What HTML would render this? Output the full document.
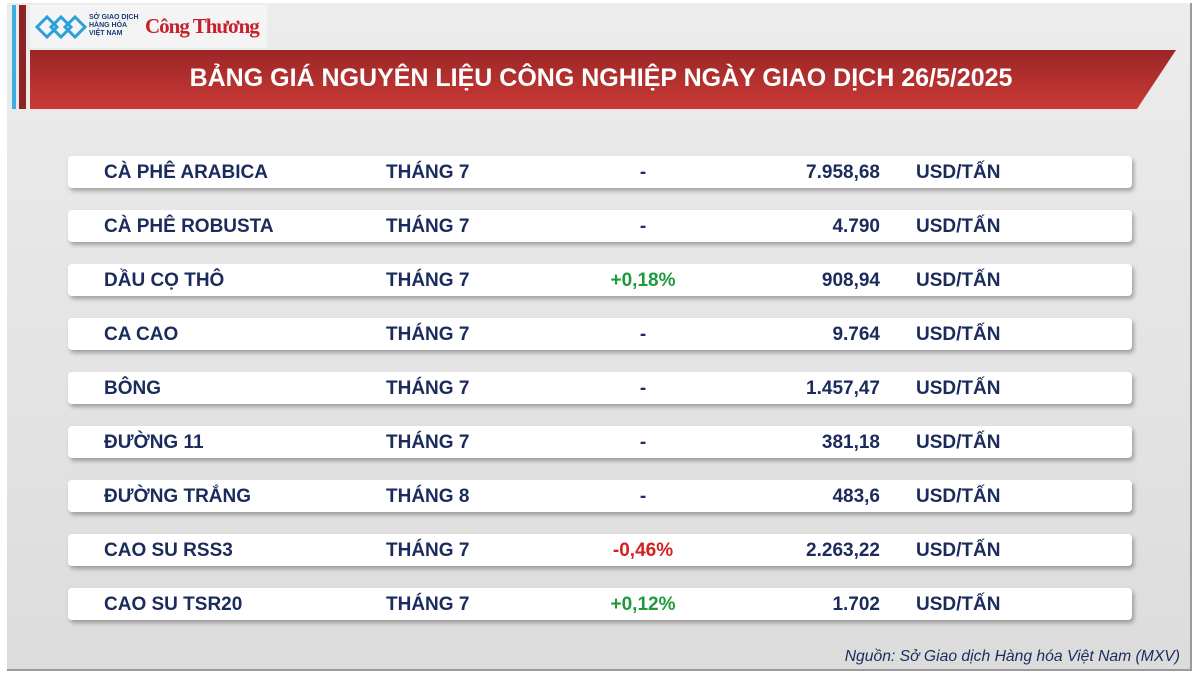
<!DOCTYPE html>
<html><head><meta charset="utf-8"><style>
body{margin:0;width:1200px;height:675px;background:#fff;overflow:hidden;font-family:"Liberation Sans",sans-serif;position:relative}
.frame{position:absolute;left:7px;top:3px;width:1183px;height:666px;background:linear-gradient(180deg,#ececec,#e3e3e3 60%,#dcdcdc);border-right:2px solid #9a9a9a;border-bottom:2px solid #9a9a9a}
.strip1{position:absolute;left:12px;top:5px;width:4px;height:104px;background:#3bb0e0}
.strip2{position:absolute;left:19px;top:5px;width:7px;height:104px;background:#8e2323}
.logo{position:absolute;left:30px;top:5px;width:237px;height:43px;background:#f4f4f4}
.banner{position:absolute;left:30px;top:50px;width:1146px;height:59px;background:linear-gradient(180deg,#9b2626,#c93a36);clip-path:polygon(0 0,100% 0,1107px 100%,0 100%)}
.banner div{position:absolute;left:0;width:1146px;top:14px;text-align:center;color:#fff;font-weight:bold;font-size:25px;padding-left:0;padding-right:4px;box-sizing:border-box;white-space:nowrap}
.row{position:absolute;left:68px;width:1064px;height:32px;background:#fff;border-radius:4px;box-shadow:2px 3px 4px rgba(0,0,0,.3);color:#1a2b5c;font-weight:bold;font-size:19px}
.row span{position:absolute;top:6px;white-space:nowrap}
.n{left:36px}.t{left:318px}.c{left:540px;width:70px;text-align:center}.p{right:252px;text-align:right}.u{left:848px}
.g{color:#1f9a3a}.r{color:#d42020}
.src{position:absolute;right:20px;top:648px;font-style:italic;font-size:15.7px;color:#1a2b5c}
</style></head><body>
<div class="frame"></div>
<div class="strip1"></div><div class="strip2"></div>
<div class="logo">
<svg width="56" height="30" style="position:absolute;left:3px;top:7px"><g fill="none" stroke="#2aa0d8" stroke-width="3"><path d="M4 15 L14 5 L24 15 L14 25Z"/><path d="M18 15 L28 5 L38 15 L28 25Z"/><path d="M32 15 L42 5 L52 15 L42 25Z"/></g></svg>
<div style="position:absolute;left:59px;top:9px;font-size:7px;line-height:8px;color:#1a3a7a;font-weight:bold;white-space:nowrap">SỞ GIAO DỊCH<br>HÀNG HÓA<br>VIỆT NAM</div>
<div style="position:absolute;left:115px;top:9px;font-family:'Liberation Serif',serif;font-weight:bold;font-size:21px;color:#c8202a;white-space:nowrap;letter-spacing:-1px">Công Thương</div>
</div>
<div class="banner"><div>BẢNG GIÁ NGUYÊN LIỆU CÔNG NGHIỆP NGÀY GIAO DỊCH 26/5/2025</div></div>
<div class="row" style="top:156px"><span class="n">CÀ PHÊ ARABICA</span><span class="t">THÁNG 7</span><span class="c">-</span><span class="p">7.958,68</span><span class="u">USD/TẤN</span></div>
<div class="row" style="top:210px"><span class="n">CÀ PHÊ ROBUSTA</span><span class="t">THÁNG 7</span><span class="c">-</span><span class="p">4.790</span><span class="u">USD/TẤN</span></div>
<div class="row" style="top:264px"><span class="n">DẦU CỌ THÔ</span><span class="t">THÁNG 7</span><span class="c g">+0,18%</span><span class="p">908,94</span><span class="u">USD/TẤN</span></div>
<div class="row" style="top:318px"><span class="n">CA CAO</span><span class="t">THÁNG 7</span><span class="c">-</span><span class="p">9.764</span><span class="u">USD/TẤN</span></div>
<div class="row" style="top:372px"><span class="n">BÔNG</span><span class="t">THÁNG 7</span><span class="c">-</span><span class="p">1.457,47</span><span class="u">USD/TẤN</span></div>
<div class="row" style="top:426px"><span class="n">ĐƯỜNG 11</span><span class="t">THÁNG 7</span><span class="c">-</span><span class="p">381,18</span><span class="u">USD/TẤN</span></div>
<div class="row" style="top:480px"><span class="n">ĐƯỜNG TRẮNG</span><span class="t">THÁNG 8</span><span class="c">-</span><span class="p">483,6</span><span class="u">USD/TẤN</span></div>
<div class="row" style="top:534px"><span class="n">CAO SU RSS3</span><span class="t">THÁNG 7</span><span class="c r">-0,46%</span><span class="p">2.263,22</span><span class="u">USD/TẤN</span></div>
<div class="row" style="top:588px"><span class="n">CAO SU TSR20</span><span class="t">THÁNG 7</span><span class="c g">+0,12%</span><span class="p">1.702</span><span class="u">USD/TẤN</span></div>
<div class="src">Nguồn: Sở Giao dịch Hàng hóa Việt Nam (MXV)</div>
</body></html>
